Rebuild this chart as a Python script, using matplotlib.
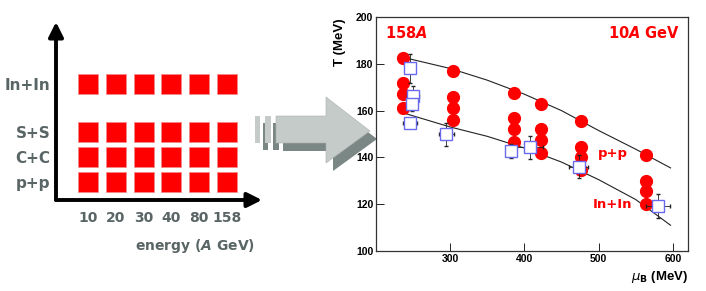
import matplotlib
matplotlib.use("Agg")
import matplotlib.pyplot as plt
from matplotlib.patches import Polygon, Rectangle

# left diagram: systems measured at each beam energy
energies = ["10", "20", "30", "40", "80", "158"]
systems = ["p+p", "C+C", "S+S", "In+In"]

# right panel: freeze-out points (mu_B in MeV, T in MeV)
pp_mu = [236, 236, 236, 236, 304, 304, 304, 304, 386, 386, 386, 386,
         422, 422, 422, 422, 476, 476, 476, 476, 564, 564, 564, 564]
pp_T = [182.6, 172, 167, 161.3, 176.8, 165.8, 161, 155.8, 167.7, 156.8, 152.3, 146.6,
        163, 152, 147.6, 141.8, 155.5, 144.6, 140, 134.5, 141, 130, 125.5, 120]

inin_mu = [246, 250, 248, 246, 295, 382, 407, 473, 580]
inin_T = [178, 166.4, 163, 154.5, 149.8, 142.6, 144.3, 136, 119.3]
inin_xerr = [0, 8, 0, 9, 10, 0, 18, 13, 16]
inin_yerr = [6, 4, 3, 2, 5, 3, 5, 5, 5]

upper_mu = [240, 300, 350, 400, 450, 500, 550, 597]
upper_T = [182.5, 178, 173, 167, 160, 151.5, 143.5, 135.5]
lower_mu = [240, 300, 350, 400, 450, 500, 550, 597]
lower_T = [158.7, 153, 149, 144, 138, 130.5, 122, 111]

W, H = 706, 291
GRAY = "#5a6565"
RED = "#ff0000"

fig = plt.figure(figsize=(W / 100, H / 100), dpi=100)

# background layer in pixel coordinates for the big grey arrow
bg = fig.add_axes([0, 0, 1, 1], zorder=0)
bg.set_xlim(0, W)
bg.set_ylim(H, 0)
bg.axis("off")
light, dark = "#c5cbc9", "#7b8785"
arrow = [(276, 116), (326, 116), (326, 97), (370, 131), (326, 163), (326, 143), (276, 143)]
bars = [(255, 116, 5, 27), (265, 116, 6, 27)]
dx, dy = 7, 8
bg.add_patch(Polygon([(x + dx, y + dy) for x, y in arrow], closed=True, fc=dark, ec="none"))
for x, y, w, h in bars:
    bg.add_patch(Rectangle((x + 8, y + 7), w, h, fc=dark, ec="none"))
for x, y, w, h in bars:
    bg.add_patch(Rectangle((x, y), w, h, fc=light, ec="none"))
bg.add_patch(Polygon(arrow, closed=True, fc=light, ec="#aab0ae", lw=0.4))

# left diagram
axl = fig.add_axes([56 / W, 1 - 200 / H, 206 / W, 178 / H], zorder=1)
axl.patch.set_visible(False)
row_pos = [0, 1, 2, 3.92]
for yi in row_pos:
    axl.scatter(range(len(energies)), [yi] * len(energies), marker="s", s=200,
                c=RED, edgecolors="#f08a8a", linewidths=0.5, zorder=2)
axl.set_xlim(-1.151, 6.259)
axl.set_ylim(-0.72, 6.4)
for s in axl.spines.values():
    s.set_visible(False)
axl.annotate("", xy=(0, 1), xytext=(0, 0), xycoords="axes fraction",
             arrowprops=dict(arrowstyle="-|>", color="black", lw=2.8,
                             mutation_scale=22, shrinkA=0, shrinkB=0))
axl.annotate("", xy=(1, 0), xytext=(0, 0), xycoords="axes fraction",
             arrowprops=dict(arrowstyle="-|>", color="black", lw=2.8,
                             mutation_scale=22, shrinkA=0, shrinkB=0))
axl.set_xticks(range(len(energies)), energies)
axl.set_yticks(row_pos, systems)
axl.tick_params(axis="x", length=0, pad=8, labelsize=10, labelcolor=GRAY)
axl.tick_params(axis="y", length=0, pad=4, labelsize=11, labelcolor=GRAY)
for lab in axl.get_xticklabels() + axl.get_yticklabels():
    lab.set_fontweight("bold")
fig.text(195 / W, 1 - 246 / H, r"energy ($\boldsymbol{A}$ GeV)", ha="center", va="center",
         fontsize=10, fontweight="bold", color=GRAY)

# right panel
ax = fig.add_axes([376 / W, 1 - 251 / H, 312 / W, 234 / H], zorder=2)
ax.patch.set_visible(False)
ax.plot(upper_mu, upper_T, color="#222222", lw=0.8, zorder=2)
ax.plot(lower_mu, lower_T, color="#222222", lw=0.8, zorder=2)
ax.plot(pp_mu, pp_T, "o", ms=8.5, color=RED, mec=RED, zorder=3, clip_on=False)
ax.errorbar(inin_mu, inin_T, xerr=inin_xerr, yerr=inin_yerr, fmt="s", ms=8,
            mfc="white", mec="#6a6aee", mew=1.0, ecolor="#222222", elinewidth=0.6,
            capsize=1.5, capthick=0.6, zorder=4)
ax.set_xlim(200, 620.5)
ax.set_ylim(100, 200)
ax.set_xticks([300, 400, 500, 600])
ax.set_yticks([100, 120, 140, 160, 180, 200])
ax.tick_params(direction="in", length=6, width=0.6, labelsize=7.5, pad=2)
for lab in ax.get_xticklabels() + ax.get_yticklabels():
    lab.set_fontweight("bold")
    lab.set_fontfamily("Liberation Sans")
for s in ax.spines.values():
    s.set_linewidth(0.9)
    s.set_color("#333333")

fig.text(340 / W, 1 - 42 / H, "T (MeV)", rotation=90, ha="center", va="center",
         fontsize=9.5, fontweight="bold", family="Liberation Sans")
fig.text(688 / W, 1 - 277 / H, r"$\mu_{\mathbf{B}}$ (MeV)", ha="right", va="center",
         fontsize=9.5, fontweight="bold", family="Liberation Sans")

ax.text(0.03, 0.93, r"158$\boldsymbol{A}$", transform=ax.transAxes, ha="left", va="center",
        fontsize=10.5, fontweight="bold", color=RED)
ax.text(0.975, 0.93, r"10$\boldsymbol{A}$ GeV", transform=ax.transAxes, ha="right", va="center",
        fontsize=10.5, fontweight="bold", color=RED)
ax.text(499, 141.5, "p+p", ha="left", va="center", fontsize=9.5, fontweight="bold",
        color=RED, zorder=1)
ax.text(492, 120, "In+In", ha="left", va="center", fontsize=9.5, fontweight="bold",
        color=RED, zorder=1)

fig.savefig("out.png", dpi=100)
